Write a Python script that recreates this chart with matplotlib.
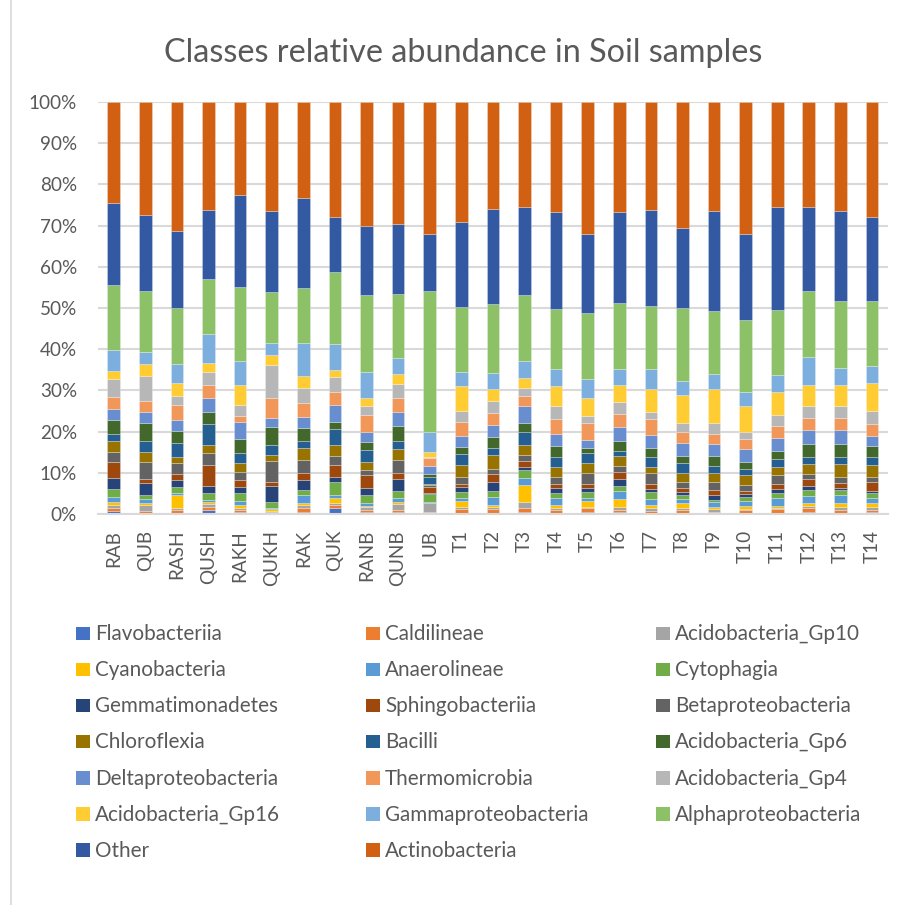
import matplotlib
matplotlib.use("Agg")
import matplotlib.pyplot as plt
import numpy as np
from matplotlib.patches import Rectangle
from matplotlib.lines import Line2D

samples = ["RAB", "QUB", "RASH", "QUSH", "RAKH", "QUKH", "RAK", "QUK", "RANB", "QUNB", "UB",
           "T1", "T2", "T3", "T4", "T5", "T6", "T7", "T8", "T9", "T10", "T11", "T12", "T13", "T14"]

classes = ["Flavobacteriia", "Caldilineae", "Acidobacteria_Gp10", "Cyanobacteria", "Anaerolineae",
           "Cytophagia", "Gemmatimonadetes", "Sphingobacteriia", "Betaproteobacteria", "Chloroflexia",
           "Bacilli", "Acidobacteria_Gp6", "Deltaproteobacteria", "Thermomicrobia", "Acidobacteria_Gp4",
           "Acidobacteria_Gp16", "Gammaproteobacteria", "Alphaproteobacteria", "Other", "Actinobacteria"]

colors = ["#4472C4", "#ED7D31", "#A5A5A5", "#FFC000", "#5B9BD5", "#70AD47",
          "#264478", "#9E480E", "#636363", "#997300", "#255E91", "#43682B",
          "#698ED0", "#F1975A", "#B7B7B7", "#FFCD33", "#7CAFDD", "#8CC168",
          "#3259A1", "#D26013"]

# relative abundance (%) per class, one value per sample in the order of `samples`
flavobacteriia = [0.8, 0.2, 0.3, 1.0, 0.5, 0.1, 0.6, 1.5, 0.6, 0.4, 0.1, 0.1, 0.2, 0.5, 0.3, 0.4, 0.4, 0.2, 0.2, 0.2, 0.2, 0.2, 0.4, 0.2, 0.5]
caldilineae = [0.7, 0.5, 0.7, 0.6, 0.5, 0.4, 0.9, 0.6, 0.4, 0.5, 0.4, 1.0, 0.9, 1.0, 0.7, 1.0, 0.6, 0.6, 0.8, 0.4, 0.8, 0.9, 1.0, 0.8, 0.5]
gp10 = [0.7, 1.6, 0.5, 0.9, 0.4, 0.3, 0.6, 0.6, 0.6, 1.5, 2.1, 0.5, 0.7, 1.3, 0.5, 0.3, 0.7, 0.6, 0.5, 0.5, 0.1, 0.3, 0.6, 0.6, 0.6]
cyanobacteria = [0.6, 0.4, 3.1, 0.3, 0.9, 0.3, 0.6, 1.3, 0.4, 0.6, 0.1, 1.6, 0.4, 4.2, 0.7, 1.5, 2.0, 0.7, 1.1, 0.7, 0.9, 0.6, 0.6, 1.0, 1.1]
anaerolineae = [1.4, 0.9, 0.6, 0.6, 0.9, 0.3, 1.8, 0.7, 0.7, 1.0, 0.3, 0.8, 2.0, 1.7, 1.6, 0.6, 1.8, 1.6, 1.0, 1.0, 1.2, 2.0, 1.8, 2.1, 1.2]
cytophagia = [1.8, 0.9, 1.3, 1.7, 1.8, 1.4, 1.3, 3.1, 1.9, 1.7, 1.9, 1.3, 1.4, 2.1, 1.4, 1.6, 1.4, 1.7, 1.1, 0.6, 1.0, 1.2, 1.5, 1.1, 1.2]
gemmatimonadetes = [2.8, 3.1, 1.8, 1.7, 1.6, 4.1, 2.5, 1.3, 1.8, 2.8, 0.3, 1.2, 2.1, 0.7, 1.0, 0.8, 1.6, 0.6, 0.6, 1.3, 0.7, 0.9, 1.0, 0.5, 0.6]
sphingobacteriia = [3.8, 1.0, 1.3, 5.0, 1.6, 0.8, 1.7, 2.9, 3.0, 1.5, 1.3, 0.9, 1.9, 1.4, 1.0, 1.2, 1.7, 1.4, 1.0, 1.1, 0.8, 1.3, 1.5, 1.2, 2.1]
betaproteobacteria = [2.5, 4.1, 2.8, 2.9, 2.0, 5.2, 3.0, 2.1, 1.2, 3.1, 0.5, 1.7, 1.4, 1.3, 1.7, 2.5, 1.5, 2.5, 1.5, 2.0, 1.3, 2.0, 1.3, 1.4, 1.2]
chloroflexia = [2.5, 2.3, 1.5, 2.0, 2.2, 1.3, 3.1, 2.6, 1.9, 2.6, 0.3, 2.9, 3.2, 2.5, 2.4, 2.4, 2.4, 1.6, 2.1, 2.2, 2.4, 2.1, 2.5, 3.2, 2.9]
bacilli = [1.7, 2.6, 3.4, 5.2, 2.3, 2.5, 1.7, 3.9, 3.0, 1.9, 1.7, 2.5, 1.9, 3.2, 2.5, 2.4, 1.2, 2.4, 2.4, 1.7, 1.6, 1.8, 1.6, 1.7, 1.9]
gp6 = [3.4, 4.6, 2.9, 2.9, 3.5, 4.4, 3.1, 1.7, 1.9, 3.8, 0.8, 1.8, 2.6, 2.3, 2.7, 1.4, 2.3, 2.0, 1.8, 2.4, 1.7, 2.1, 3.3, 3.2, 2.7]
deltaproteobacteria = [2.8, 2.6, 2.5, 3.4, 4.1, 2.1, 2.6, 4.2, 2.6, 3.4, 1.8, 2.7, 2.8, 3.9, 2.8, 1.9, 3.6, 3.2, 3.2, 2.8, 3.1, 3.1, 3.4, 3.4, 2.5]
thermomicrobia = [2.9, 2.7, 3.7, 3.1, 1.4, 5.0, 3.5, 3.1, 4.1, 3.4, 2.0, 3.4, 3.1, 2.6, 3.7, 4.2, 3.0, 3.9, 2.7, 2.6, 2.5, 2.9, 2.7, 2.8, 2.8]
gp4 = [4.3, 6.0, 2.3, 3.1, 2.8, 8.0, 3.6, 3.6, 2.1, 3.4, 0.2, 2.7, 2.8, 2.0, 3.1, 1.6, 2.9, 1.8, 2.2, 2.7, 1.7, 2.7, 2.9, 2.9, 3.2]
gp16 = [2.0, 2.8, 3.0, 2.3, 4.8, 2.4, 2.8, 1.8, 2.0, 2.3, 1.2, 6.0, 2.9, 2.4, 4.9, 4.4, 4.2, 5.5, 6.7, 8.1, 6.3, 5.6, 5.1, 5.1, 6.7]
gammaproteobacteria = [5.1, 2.9, 4.7, 6.9, 5.8, 2.8, 8.0, 6.3, 6.3, 4.0, 5.0, 3.4, 4.0, 4.0, 4.1, 4.5, 3.8, 4.8, 3.5, 3.6, 3.4, 4.0, 6.8, 4.2, 4.3]
alphaproteobacteria = [15.9, 14.9, 13.5, 13.4, 17.9, 12.6, 13.4, 17.4, 18.7, 15.5, 34.2, 15.7, 16.7, 16.1, 14.6, 16.0, 16.0, 15.5, 17.6, 15.4, 17.5, 15.8, 16.2, 16.3, 15.8]
other = [19.7, 18.5, 18.9, 16.7, 22.4, 19.6, 22.0, 13.5, 16.8, 17.0, 13.8, 20.6, 23.0, 21.4, 23.7, 19.3, 22.3, 23.3, 19.3, 24.2, 20.8, 25.1, 20.3, 21.9, 20.4]
actinobacteria = [24.6, 27.4, 31.2, 26.3, 22.6, 26.4, 23.2, 27.8, 30.0, 29.6, 32.0, 29.2, 26.0, 25.4, 26.6, 32.0, 26.6, 26.1, 30.7, 26.5, 32.0, 25.4, 25.5, 26.4, 27.8]

series = [flavobacteriia, caldilineae, gp10, cyanobacteria, anaerolineae, cytophagia,
          gemmatimonadetes, sphingobacteriia, betaproteobacteria, chloroflexia, bacilli, gp6,
          deltaproteobacteria, thermomicrobia, gp4, gp16, gammaproteobacteria,
          alphaproteobacteria, other, actinobacteria]

title = "Classes relative abundance in Soil samples"
TXT = "#595959"
GRID = "#D9D9D9"
FONT = "Lato"

W, H = 901, 905
fig = plt.figure(figsize=(W / 100, H / 100), dpi=100)
renderer = fig.canvas.get_renderer()


def size_for(text, target_px, base=20.0):
    t = fig.text(0, 0, text, fontsize=base, family=FONT)
    w = t.get_window_extent(renderer).width
    t.remove()
    return base * target_px / w


tick_fs = size_for("100%", 48)
legend_fs = size_for("Flavobacteriia", 127)
title_fs = size_for(title, 600)

# plot area in pixel units
left, right, top, bottom = 97.9, 887.8, 102.0, 514.0
ax = fig.add_axes([left / W, 1 - bottom / H, (right - left) / W, (bottom - top) / H])

data = np.array(series, dtype=float)
pct = data / data.sum(axis=0) * 100.0
x = np.arange(len(samples))
base = np.zeros(len(samples))
for vals, col in zip(pct, colors):
    ax.bar(x, vals, width=0.4, bottom=base, color=col,
           edgecolor=(1, 1, 1, 0.45), linewidth=0.4, zorder=3)
    base += vals

ax.set_xlim(-0.5, len(samples) - 0.5)
ax.set_ylim(0, 100)
ax.set_yticks(np.arange(0, 101, 10))
ax.set_yticklabels([f"{v}%" for v in range(0, 101, 10)], fontsize=tick_fs,
                   color=TXT, family=FONT)
ax.set_xticks(x)
ax.set_xticklabels(samples, rotation=90, fontsize=tick_fs, color=TXT, family=FONT)
ax.tick_params(axis="y", length=0, pad=15)
ax.tick_params(axis="x", length=0, pad=11.5)
ax.yaxis.grid(True, color=GRID, linewidth=1.5, zorder=0)
ax.set_axisbelow(True)
for side in ["top", "right", "left"]:
    ax.spines[side].set_visible(False)
ax.spines["bottom"].set_color(GRID)
ax.spines["bottom"].set_linewidth(1.5)
ax.spines["bottom"].set_zorder(4)

fig.text(463 / W, 1 - 62 / H, title, fontsize=title_fs, color=TXT, family=FONT,
         ha="center", va="baseline")

# legend laid out row by row, three columns
col_x = [76, 366, 656]
row0, row_step, sw = 640.0, 36.15, 13.5
for i, (name, col) in enumerate(zip(classes, colors)):
    r, c = divmod(i, 3)
    yb = row0 + r * row_step
    fig.add_artist(Rectangle((col_x[c] / W, 1 - yb / H), sw / W, sw / H,
                             transform=fig.transFigure, facecolor=col, edgecolor="none"))
    fig.text((col_x[c] + 19) / W, 1 - yb / H, name, fontsize=legend_fs, color=TXT,
             family=FONT, ha="left", va="baseline")

fig.add_artist(Line2D([11 / W, 11 / W], [0, 1], transform=fig.transFigure,
                      color=GRID, linewidth=1.2))

fig.savefig("out.png", dpi=100, facecolor="white")
